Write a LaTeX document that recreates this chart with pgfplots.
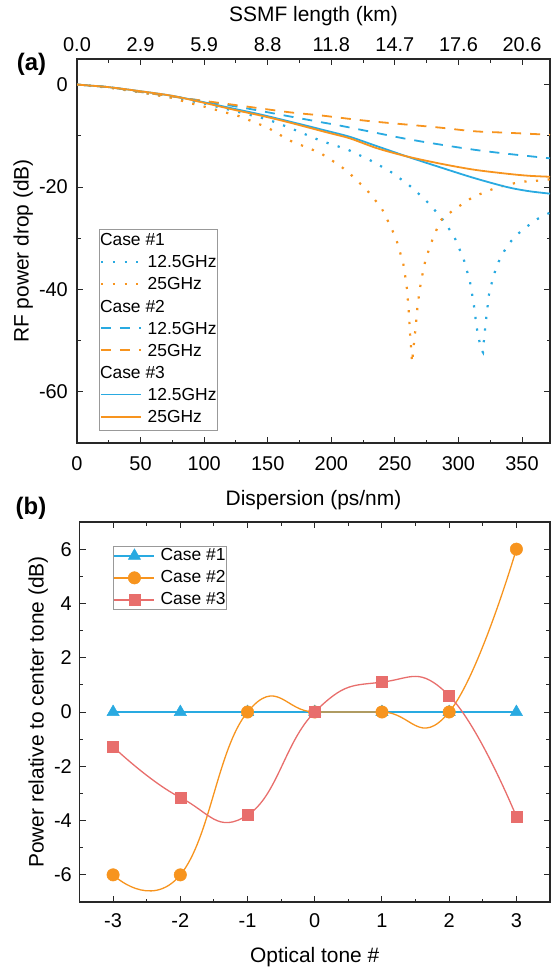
\documentclass[border=0pt]{standalone}
\usepackage{fontspec}
\setmainfont{Liberation Sans}
\usepackage{pgfplots}
\pgfplotsset{compat=1.18}
\definecolor{cblue}{RGB}{41,170,225}
\definecolor{corange}{RGB}{247,148,30}
\definecolor{cred}{RGB}{232,110,108}
\definecolor{axgray}{RGB}{40,40,40}
\pgfplotsset{
  mystyle/.style={
    scale only axis,
    axis line style={axgray, line width=1.2bp},
    every tick/.style={axgray, line width=1.0bp},
    major tick length=6bp, minor tick length=3.5bp,
    tick align=inside,
    /pgf/number format/assume math mode=true,
    tick label style={font=\fontsize{20}{24}\selectfont},
    label style={font=\fontsize{21}{25}\selectfont},
    legend cell align=left,
  },
}
\tikzset{
  dotA/.style={line width=2.2bp, dash pattern=on 2.2bp off 9.5bp},
  dashB/.style={line width=1.8bp, dash pattern=on 10bp off 9bp},
  solC/.style={line width=1.8bp, solid},
}
\newcommand{\LL}[1]{\tikz[baseline={(0,-6bp)}]{\draw[#1] (0,0) -- (40bp,0);}}
\begin{document}
\begin{tikzpicture}
\useasboundingbox (0,0) rectangle (551bp,-971bp);
% ---------- panel (a) ----------
\begin{axis}[mystyle,
  at={(77bp,-443bp)}, anchor=south west,
  width=473bp, height=384bp,
  xmin=0, xmax=372, ymin=-70, ymax=5,
  xtick={0,50,...,350}, minor xtick={25,75,...,375},
  ytick={0,-20,-40,-60}, minor ytick={-10,-30,-50,-70},
  xtick pos=both, ytick pos=both,
  xticklabel pos=bottom, yticklabel pos=left,
  xticklabel style={anchor=base, yshift=-27.3bp},
  yticklabel style={anchor=east, inner sep=0bp, xshift=-9bp},
  xlabel={Dispersion (ps/nm)},
  ylabel={RF power drop (dB)},
  xlabel style={at={(axis description cs:0.5,-0.1615)}, anchor=base},
  ylabel style={at={(axis description cs:-0.1135,0.5)}, anchor=center},
]
\addplot[cblue, dotA] coordinates {
(0,0) (25,-0.5) (50,-1.5) (75,-2.5) (100,-3.7) (128,-5.4) (150,-6.8) (167,-8.4)
(191,-10.9) (213,-12.7) (230,-14.7) (246,-16.9) (260.5,-19.5) (273.6,-22.4)
(286,-25.8) (296.5,-29.6) (304,-34.0) (309,-38.4) (312,-42.8) (314.3,-47.4)
(317.7,-51.7) (319.3,-52.3) (320,-50.0) (321.9,-45.5) (324,-41.0) (326.1,-38.8)
(328.5,-36.7) (331.6,-34.6) (335.8,-32.6) (340.6,-30.8) (346,-29.3) (354,-27.7)
(361.6,-26.3) (372,-25.0)};
\addplot[corange, dotA] coordinates {
(0,0) (25,-0.6) (50,-1.5) (75,-2.6) (88.6,-3.6) (100,-4.3) (128,-6.2) (150,-8.4)
(167,-10.9) (191,-13.3) (206.7,-15.8) (214.6,-17.4) (227.7,-20.5) (239.5,-24.1)
(247.4,-28.1) (251.3,-30.4) (256.5,-34.8) (259.2,-39.1) (260.8,-43.8) (261.8,-48.2)
(263.1,-52.8) (263.6,-54.3) (264.4,-51.9) (266.3,-47.5) (267.9,-43.0) (270.5,-38.5)
(274.2,-34.1) (280.2,-29.8) (286,-26.5) (296,-24.5) (311.7,-21.9) (330,-20.1)
(348.4,-19.0) (365.5,-18.7) (372,-18.5)};
\addplot[cblue, dashB, smooth] coordinates {
(0,0) (25,-0.5) (49,-1.4) (88.6,-2.8) (128,-4.4) (167,-6.2) (191,-7.3)
(206.7,-8.0) (232.8,-9.3) (259,-10.6) (285.4,-11.7) (311.7,-12.7) (338,-13.5) (372,-14.4)};
\addplot[corange, dashB, smooth] coordinates {
(0,0) (25,-0.5) (49,-1.4) (88.6,-2.8) (128,-4.1) (167,-5.4) (191,-6.0)
(214.6,-6.7) (232.8,-7.2) (259,-7.8) (285.4,-8.4) (311.7,-9.1) (338,-9.4) (372,-9.8)};
\addplot[cblue, solC, smooth] coordinates {
(0,0) (25,-0.5) (50,-1.3) (75,-2.2) (99,-3.4) (125,-4.8) (143.7,-5.8) (167,-7.2)
(196,-9.0) (214.6,-10.2) (235.6,-12.0) (259,-14.0) (285,-16.1) (311.7,-18.2)
(338,-20.0) (355,-20.8) (372,-21.3)};
\addplot[corange, solC, smooth] coordinates {
(0,0) (25,-0.5) (50,-1.3) (75,-2.2) (99,-3.5) (125,-5.0) (143.7,-6.0) (167,-7.4)
(196,-9.3) (214.6,-10.5) (235.6,-12.4) (259,-14.0) (285,-15.4) (311.7,-16.6)
(338,-17.4) (355,-17.8) (372,-18.0)};
\end{axis}
% legend of panel (a)
\node[draw=gray!80, line width=0.8bp, inner sep=0.8bp, anchor=north west,
  font=\fontsize{17.5}{22.2}\selectfont] at (98.8bp,-229bp) {%
\begin{tabular}{@{}l@{\hspace{5.5bp}}l@{}}
\multicolumn{2}{@{}l@{}}{Case \#1}\\
\LL{cblue,dotA} & 12.5GHz\\
\LL{corange,dotA} & 25GHz\\
\multicolumn{2}{@{}l@{}}{Case \#2}\\
\LL{cblue,dashB} & 12.5GHz\\
\LL{corange,dashB} & 25GHz\\
\multicolumn{2}{@{}l@{}}{Case \#3}\\
\LL{cblue,solC} & 12.5GHz\\
\LL{corange,solC} & 25GHz
\end{tabular}};
% top axis (SSMF length)
\begin{axis}[mystyle,
  at={(77bp,-443bp)}, anchor=south west,
  width=473bp, height=384bp,
  xmin=0, xmax=372, ymin=0, ymax=1,
  axis x line*=top, hide y axis,
  major tick length=0bp,
  xtick={0,50,...,350},
  xticklabels={0.0,2.9,5.9,8.8,11.8,14.7,17.6,20.6},
  xticklabel style={anchor=base, yshift=7.6bp},
  xlabel={SSMF length (km)},
  xlabel style={at={(axis description cs:0.5,1.0971)}, anchor=base},
]
\addplot[draw=none] coordinates {(0,0)};
\end{axis}
\node[font=\bfseries\fontsize{24}{28}\selectfont] at (31.5bp,-64bp) {(a)};
\node[font=\bfseries\fontsize{24}{28}\selectfont] at (31bp,-508bp) {(b)};
% ---------- panel (b) ----------
\begin{axis}[mystyle,
  at={(79.5bp,-902bp)}, anchor=south west,
  width=470.5bp, height=380bp,
  xmin=-3.5, xmax=3.5, ymin=-7, ymax=7,
  xtick={-3,...,3}, minor xtick={-3.5,-2.5,...,3.5},
  ytick={-6,-4,...,6}, minor ytick={-7,-5,...,7},
  xtick pos=both, ytick pos=both,
  xticklabel pos=bottom, yticklabel pos=left,
  xticklabel style={anchor=base, yshift=-25bp},
  yticklabel style={anchor=east, inner sep=0bp, xshift=-7.5bp},
  xlabel={Optical tone \#},
  ylabel={Power relative to center tone (dB)},
  xlabel style={at={(axis description cs:0.5,-0.1597)}, anchor=base},
  ylabel style={at={(axis description cs:-0.0876,0.5)}, anchor=center},
  legend style={at={(0.071,0.937)}, anchor=north west,
    font=\fontsize{17.5}{21}\selectfont, draw=gray!80, line width=0.8bp,
    inner sep=0.5bp, row sep=4bp, column sep=5bp,
    nodes={inner sep=0.5bp, text height=13bp, text depth=4bp}},
  legend image code/.code={\draw[mark repeat=2, mark phase=2, #1] plot coordinates {(0bp,0bp) (20bp,0bp) (40bp,0bp)};},
]
\addplot[cblue, line width=1.3bp, mark=triangle*, mark size=7bp,
  mark options={fill=cblue, draw=cblue, line width=0.5bp}] coordinates {
(-3,0) (-2,0) (-1,0) (0,0) (1,0) (2,0) (3,0)};
\addlegendentry{Case \#1}
\addplot[corange, line width=1.3bp, smooth, tension=0.8, mark=*, mark size=6.2bp,
  mark options={fill=corange, draw=corange, line width=0.5bp}] coordinates {
(-3,-6) (-2,-6) (-1,0) (0,0) (1,0) (2,0) (3,6)};
\addlegendentry{Case \#2}
\addplot[cred, line width=1.3bp, smooth, tension=0.8, mark=square*, mark size=5.5bp,
  mark options={fill=cred, draw=cred, line width=0.5bp}] coordinates {
(-3,-1.28) (-2,-3.15) (-1,-3.8) (0,0) (1,1.1) (2,0.6) (3,-3.85)};
\addlegendentry{Case \#3}
\end{axis}
\end{tikzpicture}
\end{document}
